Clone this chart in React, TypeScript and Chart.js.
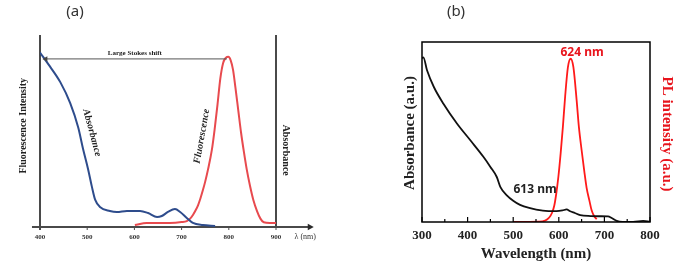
import React, { useEffect, useRef } from "react";
import { Chart, registerables } from "chart.js";

Chart.register(...registerables);

// ---------- Panel (a) data ----------
const aAbsWl = [400, 421, 443, 464, 481, 491, 502, 510, 517, 527, 548, 563, 584, 612, 629, 648, 658, 671, 686, 697, 711, 724, 745, 771];
const aAbsVal = [1.0, 0.92, 0.83, 0.71, 0.57, 0.45, 0.33, 0.23, 0.155, 0.115, 0.092, 0.086, 0.092, 0.092, 0.08, 0.057, 0.063, 0.086, 0.103, 0.086, 0.052, 0.023, 0.011, 0.006];
const aFlWl = [601, 626, 675, 700, 711, 718, 724, 730, 735, 740, 745, 750, 756, 764, 770, 776, 782, 788, 794, 799, 804, 809, 814, 820, 826, 832, 838, 845, 852, 860, 867, 874, 887, 900];
const aFlVal = [0.011, 0.023, 0.023, 0.028, 0.034, 0.048, 0.069, 0.097, 0.126, 0.165, 0.21, 0.26, 0.33, 0.44, 0.56, 0.7, 0.85, 0.94, 0.97, 0.975, 0.955, 0.9, 0.8, 0.67, 0.54, 0.43, 0.33, 0.235, 0.155, 0.09, 0.048, 0.027, 0.023, 0.023];
const aTicks = [400, 500, 600, 700, 800, 900];

// ---------- Panel (b) data ----------
const bAbsWl = [300, 303, 311, 326, 347, 377, 406, 435, 450, 464, 472, 486, 500, 515, 535, 565, 595, 608, 617, 625, 635, 647, 670, 690, 708, 716, 727, 740, 763, 785, 800];
const bAbsVal = [0.91, 0.915, 0.843, 0.75, 0.657, 0.546, 0.454, 0.361, 0.306, 0.25, 0.194, 0.148, 0.118, 0.095, 0.078, 0.063, 0.06, 0.064, 0.07, 0.06, 0.05, 0.038, 0.033, 0.032, 0.031, 0.022, 0.006, 0.001, 0.001, 0.006, 0.002];
const bPlWl = [500, 555, 570, 579, 585, 590, 594, 599, 604, 609, 614, 620, 626, 632, 639, 644, 650, 656, 661, 667, 672, 677, 683];
const bPlVal = [0, 0.002, 0.008, 0.025, 0.05, 0.09, 0.15, 0.25, 0.38, 0.53, 0.7, 0.86, 0.907, 0.86, 0.68, 0.53, 0.4, 0.28, 0.19, 0.12, 0.065, 0.035, 0.015];
const bTickLabels = [300, 400, 500, 600, 700, 800];
const bMinorTicks = [350, 450, 550, 650, 750];

const SERIF = '"Liberation Serif", "Times New Roman", serif';
const SANS = '"Noto Sans", "DejaVu Sans", sans-serif';

function pts(xs: number[], ys: number[]) {
  return xs.map((x, i) => ({ x, y: ys[i] }));
}

function arrowHead(ctx: CanvasRenderingContext2D, x: number, y: number, dir: number, size: number) {
  ctx.beginPath();
  ctx.moveTo(x, y);
  ctx.lineTo(x - dir * size, y - size * 0.55);
  ctx.lineTo(x - dir * size, y + size * 0.55);
  ctx.closePath();
  ctx.fill();
}

function rotText(ctx: CanvasRenderingContext2D, text: string, x: number, y: number, angleDeg: number) {
  ctx.save();
  ctx.translate(x, y);
  ctx.rotate((angleDeg * Math.PI) / 180);
  ctx.textAlign = "center";
  ctx.textBaseline = "middle";
  ctx.fillText(text, 0, 0);
  ctx.restore();
}

export default function App() {
  const refA = useRef<HTMLCanvasElement>(null);
  const refB = useRef<HTMLCanvasElement>(null);

  useEffect(() => {
    const decoA = {
      id: "decoA",
      beforeDatasetsDraw(chart: any) {
        const { ctx, scales } = chart;
        const x = scales.x, y = scales.y;
        const L = x.getPixelForValue(400), R = x.getPixelForValue(900);
        const B = y.getPixelForValue(0), T = y.getPixelForValue(1.1);
        ctx.save();
        ctx.strokeStyle = "#4a4a4a";
        ctx.fillStyle = "#2a2a2a";
        ctx.lineWidth = 2;
        ctx.beginPath();
        ctx.moveTo(L, T); ctx.lineTo(L, B + 3);
        ctx.moveTo(R, T); ctx.lineTo(R, B);
        const xs = x.getPixelForValue(383), xe = x.getPixelForValue(980);
        ctx.moveTo(xs, B); ctx.lineTo(xe - 4, B);
        ctx.stroke();
        arrowHead(ctx, xe, B, 1, 6);
        ctx.lineWidth = 1;
        ctx.beginPath();
        for (const v of aTicks) {
          const px = x.getPixelForValue(v);
          ctx.moveTo(px, B); ctx.lineTo(px, B + 3);
        }
        ctx.stroke();
        ctx.fillStyle = "#333";
        ctx.font = `bold 7px ${SERIF}`;
        ctx.textAlign = "center";
        ctx.textBaseline = "middle";
        for (const v of aTicks) ctx.fillText(String(v), x.getPixelForValue(v), B + 10);
        ctx.font = `8px ${SERIF}`;
        ctx.fillText("λ (nm)", x.getPixelForValue(962), B + 10);
        ctx.restore();
      },
      afterDatasetsDraw(chart: any) {
        const { ctx, scales } = chart;
        const x = scales.x, y = scales.y;
        ctx.save();
        // Stokes shift arrow
        ctx.strokeStyle = "#555";
        ctx.fillStyle = "#444";
        ctx.lineWidth = 1;
        const ay = y.getPixelForValue(0.963);
        const ax1 = x.getPixelForValue(405), ax2 = x.getPixelForValue(796);
        ctx.beginPath();
        ctx.moveTo(ax1 + 3, ay); ctx.lineTo(ax2, ay);
        ctx.stroke();
        arrowHead(ctx, ax1, ay, -1, 5);
        ctx.fillStyle = "#222";
        ctx.font = `bold 7px ${SERIF}`;
        ctx.textAlign = "center";
        ctx.textBaseline = "middle";
        ctx.fillText("Large Stokes shift", x.getPixelForValue(601), y.getPixelForValue(0.997));
        // Axis titles
        ctx.font = `bold 10px ${SERIF}`;
        rotText(ctx, "Fluorescence Intensity", 23, y.getPixelForValue(0.58), -90);
        rotText(ctx, "Absorbance", x.getPixelForValue(920), y.getPixelForValue(0.44), 90);
        // Curve labels
        ctx.font = `italic bold 10px ${SERIF}`;
        rotText(ctx, "Absorbance", x.getPixelForValue(510), y.getPixelForValue(0.54), 75);
        rotText(ctx, "Fluorescence", x.getPixelForValue(743), y.getPixelForValue(0.52), -80);
        // Panel label
        ctx.font = `15px ${SANS}`;
        ctx.fillStyle = "#333";
        ctx.fillText("(a)", 75, 12);
        ctx.restore();
      },
    };

    const decoB = {
      id: "decoB",
      afterDatasetsDraw(chart: any) {
        const { ctx, scales } = chart;
        const x = scales.x, y = scales.y;
        const L = x.getPixelForValue(300), R = x.getPixelForValue(800);
        const B = y.getPixelForValue(0), T = y.getPixelForValue(1);
        ctx.save();
        ctx.strokeStyle = "#000";
        ctx.lineWidth = 1.5;
        ctx.strokeRect(L, T, R - L, B - T);
        ctx.lineWidth = 1.2;
        ctx.beginPath();
        for (const v of bTickLabels) {
          const px = x.getPixelForValue(v);
          ctx.moveTo(px, B); ctx.lineTo(px, B - 5);
        }
        for (const v of bMinorTicks) {
          const px = x.getPixelForValue(v);
          ctx.moveTo(px, B); ctx.lineTo(px, B - 3);
        }
        ctx.stroke();
        ctx.fillStyle = "#222";
        ctx.font = `bold 13px ${SERIF}`;
        ctx.textAlign = "center";
        ctx.textBaseline = "middle";
        for (const v of bTickLabels) ctx.fillText(String(v), x.getPixelForValue(v), B + 14);
        ctx.font = `bold 15px ${SERIF}`;
        ctx.fillText("Wavelength (nm)", (L + R) / 2, B + 32);
        rotText(ctx, "Absorbance (a.u.)", L - 12, (T + B) / 2 + 1, -90);
        ctx.fillStyle = "#e8141c";
        rotText(ctx, "PL intensity (a.u.)", R + 17, (T + B) / 2 + 2, 90);
        ctx.font = `bold 12px ${SANS}`;
        ctx.fillText("624 nm", x.getPixelForValue(651), y.getPixelForValue(0.939));
        ctx.fillStyle = "#222";
        ctx.fillText("613 nm", x.getPixelForValue(548), y.getPixelForValue(0.178));
        ctx.font = `15px ${SANS}`;
        ctx.fillStyle = "#333";
        ctx.fillText("(b)", L + 34, 12);
        ctx.restore();
      },
    };

    const chartA = new Chart(refA.current as HTMLCanvasElement, {
      type: "line",
      data: {
        datasets: [
          {
            label: "Absorbance",
            data: pts(aAbsWl, aAbsVal),
            borderColor: "#2e4c8c",
            borderWidth: 2,
            pointRadius: 0,
            cubicInterpolationMode: "monotone",
            fill: false,
          },
          {
            label: "Fluorescence",
            data: pts(aFlWl, aFlVal),
            borderColor: "#e84a4e",
            borderWidth: 2,
            pointRadius: 0,
            cubicInterpolationMode: "monotone",
            fill: false,
          },
        ],
      },
      options: {
        responsive: false,
        animation: false,
        devicePixelRatio: 1,
        layout: { padding: { left: 40, right: 64, top: 35, bottom: 41 } },
        plugins: { legend: { display: false }, tooltip: { enabled: false } },
        scales: {
          x: { type: "linear", min: 400, max: 900, display: false },
          y: { type: "linear", min: 0, max: 1.1, display: false },
        },
      },
      plugins: [decoA],
    } as any);

    const chartB = new Chart(refB.current as HTMLCanvasElement, {
      type: "line",
      data: {
        datasets: [
          {
            label: "Absorbance",
            data: pts(bAbsWl, bAbsVal),
            borderColor: "#111",
            borderWidth: 1.8,
            pointRadius: 0,
            cubicInterpolationMode: "monotone",
            fill: false,
          },
          {
            label: "PL intensity",
            data: pts(bPlWl, bPlVal),
            borderColor: "#ff1a1a",
            borderWidth: 1.8,
            pointRadius: 0,
            cubicInterpolationMode: "monotone",
            fill: false,
          },
        ],
      },
      options: {
        responsive: false,
        animation: false,
        devicePixelRatio: 1,
        layout: { padding: { left: 82, right: 35, top: 42, bottom: 46 } },
        plugins: { legend: { display: false }, tooltip: { enabled: false } },
        scales: {
          x: { type: "linear", min: 300, max: 800, display: false },
          y: { type: "linear", min: 0, max: 1, display: false },
        },
      },
      plugins: [decoB],
    } as any);

    return () => {
      chartA.destroy();
      chartB.destroy();
    };
  }, []);

  return (
    <div style={{ position: "absolute", left: 0, top: 0, width: 685, height: 268, background: "#fff" }}>
      <canvas ref={refA} width={340} height={268} style={{ position: "absolute", left: 0, top: 0, width: 340, height: 268 }} />
      <canvas ref={refB} width={345} height={268} style={{ position: "absolute", left: 340, top: 0, width: 345, height: 268 }} />
    </div>
  );
}
